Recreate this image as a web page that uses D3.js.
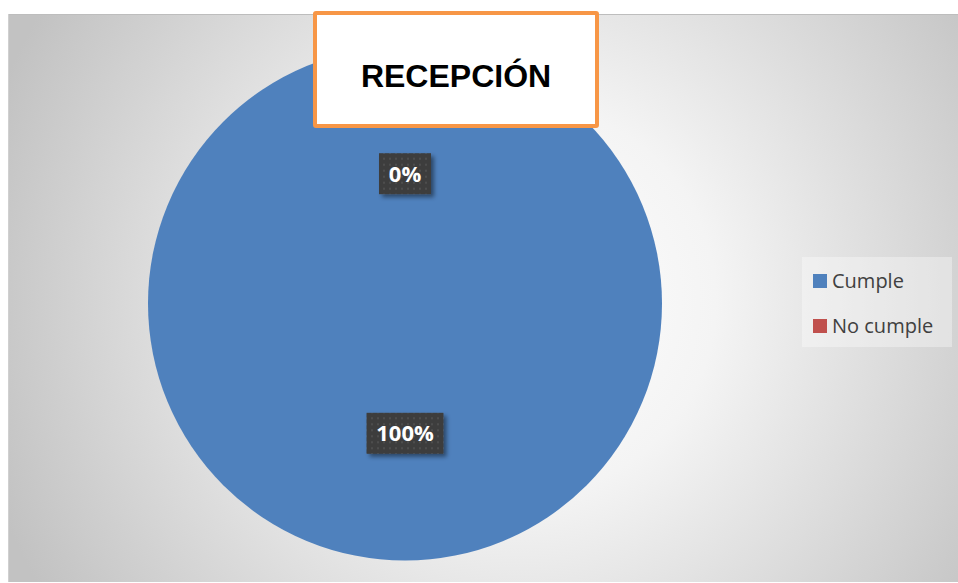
<!DOCTYPE html>
<html><head><meta charset="utf-8">
<script src="https://cdnjs.cloudflare.com/ajax/libs/d3/7.8.5/d3.min.js"></script>
<style>html,body{margin:0;padding:0;background:#fff;}svg{display:block;}</style>
</head><body>
<script>
const categories = ["Cumple", "No cumple"];
const values = [100, 0];
const labels = ["100%", "0%"];
const colors = ["#4F81BD", "#C0504D"];
const title = "RECEPCIÓN";

const W = 958, H = 583;
const svg = d3.select("body").append("svg").attr("width", W).attr("height", H);
const defs = svg.append("defs");
const rg = defs.append("radialGradient").attr("id", "bg")
  .attr("gradientUnits", "userSpaceOnUse").attr("cx", 520).attr("cy", 300).attr("r", 560);
rg.append("stop").attr("offset", "0").attr("stop-color", "#ffffff");
rg.append("stop").attr("offset", "0.35").attr("stop-color", "#f4f4f4");
rg.append("stop").attr("offset", "1").attr("stop-color", "#c2c2c2");

const pat = defs.append("pattern").attr("id", "dots").attr("patternUnits", "userSpaceOnUse")
  .attr("width", 6).attr("height", 6);
pat.append("rect").attr("width", 6).attr("height", 6).attr("fill", "#3d3d3d");
pat.append("rect").attr("x", 2).attr("y", 2).attr("width", 2).attr("height", 2).attr("fill", "#4e4e4e");

const sh = defs.append("filter").attr("id", "shadow").attr("x", "-30%").attr("y", "-30%").attr("width", "160%").attr("height", "160%");
sh.append("feDropShadow").attr("dx", 3).attr("dy", 3).attr("stdDeviation", 2).attr("flood-color", "#000").attr("flood-opacity", 0.45);

// chart area
svg.append("rect").attr("x", 8).attr("y", 14).attr("width", 950).attr("height", 568)
  .attr("fill", "url(#bg)");
svg.append("line").attr("x1", 8).attr("x2", 958).attr("y1", 14.5).attr("y2", 14.5).attr("stroke", "#bdbdbd");
svg.append("line").attr("x1", 8.5).attr("x2", 8.5).attr("y1", 14).attr("y2", 582).attr("stroke", "#d0d0d0");

// pie
const cx = 405, cy = 303.5, R = 257;
const pie = d3.pie().sort(null).value(d => d)(values);
const arc = d3.arc().innerRadius(0).outerRadius(R);
const labelArc = d3.arc().innerRadius(R * 0.505).outerRadius(R * 0.505);
const g = svg.append("g").attr("transform", `translate(${cx},${cy})`);
g.selectAll("path").data(pie).join("path").attr("d", arc).attr("fill", (d, i) => colors[i]);

// data labels
const lab = g.selectAll("g.lab").data(pie).join("g").attr("class", "lab")
  .attr("transform", d => { const c = labelArc.centroid(d); return `translate(${c[0]},${c[1]})`; });
lab.each(function(d, i) {
  const s = d3.select(this);
  const w = i === 0 ? 77 : 52, h = 41;
  s.append("rect").attr("x", -w / 2).attr("y", -h / 2).attr("width", w).attr("height", h)
    .attr("fill", "url(#dots)").attr("filter", "url(#shadow)");
  s.append("text").attr("text-anchor", "middle").attr("dy", "0.36em")
    .attr("font-family", "'Open Sans', 'Liberation Sans', Arial, sans-serif")
    .attr("font-weight", "bold").attr("font-size", 22).attr("fill", "#fff").text(labels[i]);
});

// title box
svg.append("rect").attr("x", 315).attr("y", 13).attr("width", 282).attr("height", 113)
  .attr("fill", "#fff").attr("stroke", "#F79646").attr("stroke-width", 4).attr("rx", 1);
svg.append("text").attr("x", 456).attr("y", 87).attr("text-anchor", "middle")
  .attr("font-family", "Arial, 'Liberation Sans', sans-serif").attr("font-weight", "bold")
  .attr("font-size", 32).attr("fill", "#000").text(title);

// legend
svg.append("rect").attr("x", 802).attr("y", 257).attr("width", 150).attr("height", 90)
  .attr("fill", "#ffffff").attr("opacity", 0.35);
const leg = svg.append("g").selectAll("g").data(categories).join("g")
  .attr("transform", (d, i) => `translate(813,${274 + i * 45})`);
leg.append("rect").attr("width", 14).attr("height", 14).attr("fill", (d, i) => colors[i]);
leg.append("text").attr("x", 19).attr("y", 7).attr("dy", "0.36em")
  .attr("font-family", "'Open Sans', 'Liberation Sans', sans-serif")
  .attr("font-size", 20).attr("fill", "#404040").text(d => d);
</script>
</body></html>
